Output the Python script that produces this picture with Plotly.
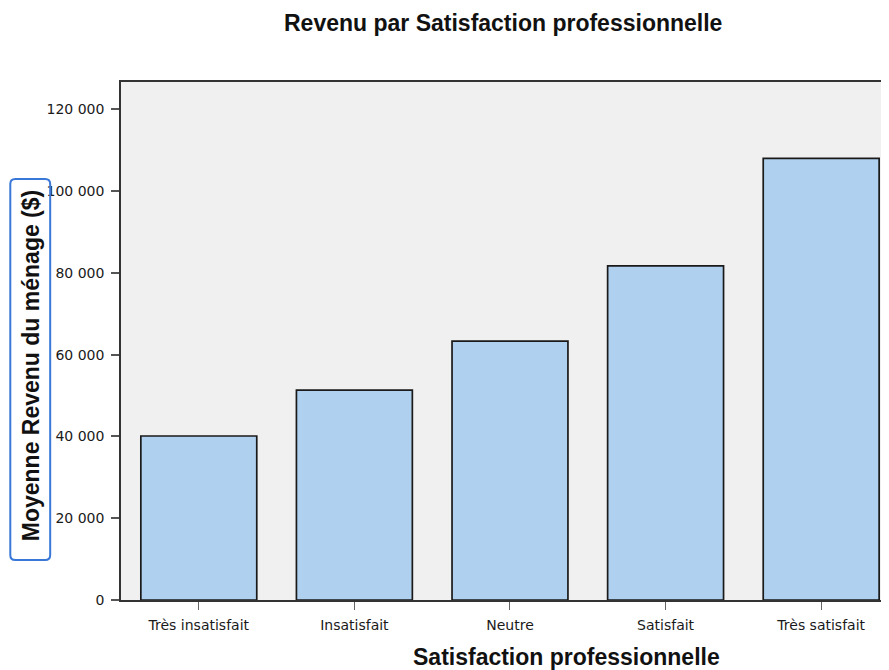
import plotly.graph_objects as go

categories = ["Très insatisfait", "Insatisfait", "Neutre", "Satisfait", "Très satisfait"]
mean_income = [40100, 51300, 63300, 81700, 108000]
y_ticks = [0, 20000, 40000, 60000, 80000, 100000, 120000]

FONT = "Liberation Sans, Arial, sans-serif"
TICKFONT = "DejaVu Sans, Verdana, sans-serif"

# plot area in page pixels: x 121..889, y 82..600 (page body has an 8px offset)
PW, PH = 768, 518
def px(P):
    return (P - 121) / PW
def py(P):
    return (600 - P) / PH

fig = go.Figure(go.Bar(
    x=categories, y=mean_income,
    marker=dict(color="#afd0ee", line=dict(color="#1a1a1a", width=1.7)),
    width=0.745,
))

# rounded box around y-axis title
x0, x1 = px(10), px(50)
y0, y1 = py(560), py(179)
rx, ry = 5 / PW, 5 / PH
path = (f"M {x0+rx},{y0} L {x1-rx},{y0} Q {x1},{y0} {x1},{y0+ry} "
        f"L {x1},{y1-ry} Q {x1},{y1} {x1-rx},{y1} L {x0+rx},{y1} "
        f"Q {x0},{y1} {x0},{y1-ry} L {x0},{y0+ry} Q {x0},{y0} {x0+rx},{y0} Z")

fig.update_layout(
    width=889, height=670,
    margin=dict(l=113, r=8, t=74, b=78),
    paper_bgcolor="white", plot_bgcolor="#f0f0f0",
    separators=", ",
    font=dict(family=FONT, color="#1a1a1a", size=12),
    showlegend=False,
    xaxis=dict(
        range=[-0.5, 4.423], showgrid=False, showline=True, mirror=True,
        linecolor="#333333", linewidth=1.5,
        ticks="outside", ticklen=8, tickcolor="#666666", tickwidth=1,
        ticklabelstandoff=3,
        tickfont=dict(size=14, color="#1a1a1a", family=TICKFONT),
    ),
    yaxis=dict(
        range=[0, 126650], showgrid=False, zeroline=False, showline=True, mirror=True,
        linecolor="#333333", linewidth=1.5,
        tickvals=y_ticks, tickformat=",.0f",
        ticks="outside", ticklen=8, tickcolor="#555555", tickwidth=1.5,
        ticklabelstandoff=4,
        tickfont=dict(size=14, color="#1a1a1a", family=TICKFONT),
    ),
    shapes=[dict(type="path", xref="paper", yref="paper", path=path,
                 line=dict(color="#3a78d8", width=2), fillcolor="rgba(0,0,0,0)")],
    annotations=[
        dict(text="<b>Revenu par Satisfaction professionnelle</b>", xref="paper", yref="paper",
             x=px(504), y=py(23), xanchor="center", yanchor="middle", showarrow=False,
             font=dict(size=23, color="#111111", family=FONT)),
        dict(text="<b>Satisfaction professionnelle</b>", xref="paper", yref="paper",
             x=px(568), y=py(657), xanchor="center", yanchor="middle", showarrow=False,
             font=dict(size=23, color="#111111", family=FONT)),
        dict(text="<b>Moyenne Revenu du ménage ($)</b>", xref="paper", yref="paper",
             x=px(31), y=py(366), xanchor="center", yanchor="middle",
             showarrow=False, textangle=-90,
             font=dict(size=23, color="#111111", family=FONT)),
    ],
)

fig.write_html("out.html")
